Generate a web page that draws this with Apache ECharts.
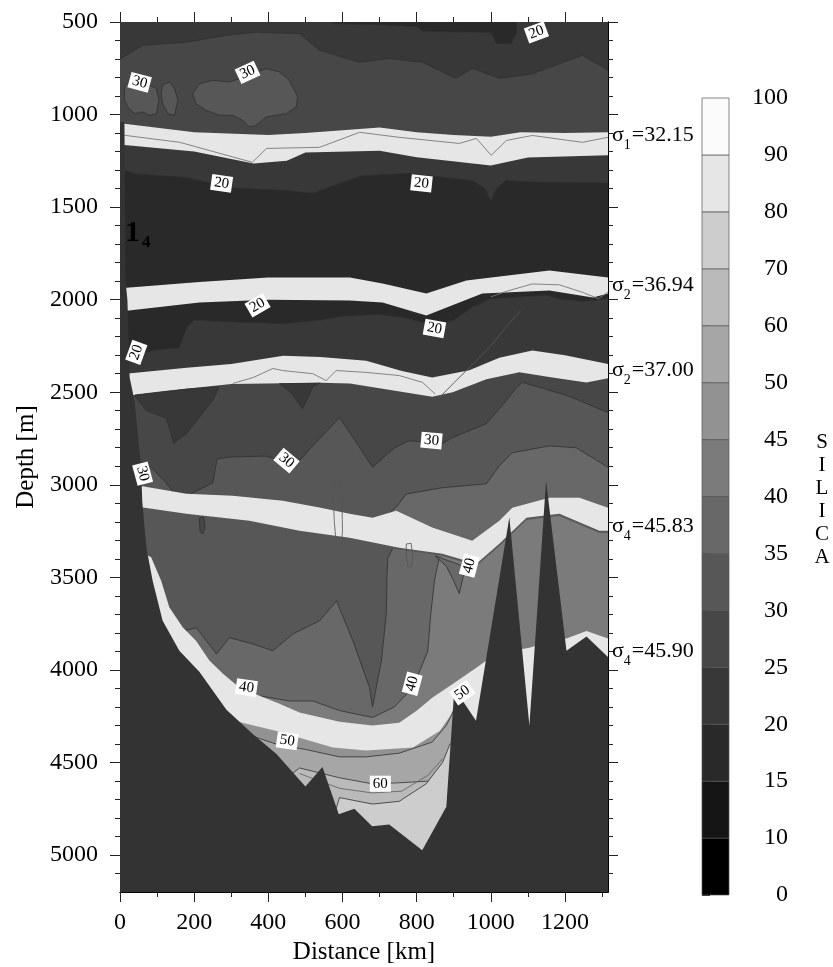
<!DOCTYPE html>
<html>
<head>
<meta charset="utf-8">
<script src="https://cdn.jsdelivr.net/npm/echarts@6/dist/echarts.min.js"></script>
<style>
  html, body { margin: 0; padding: 0; background: #fff; }
  #chart { width: 833px; height: 967px; }
</style>
</head>
<body>
<div id="chart"></div>
<script>
// 剖面范围
const distMax = 1316;
const depthMin = 500;
const depthMax = 5200;

// 坐标刻度
const distLabels = [0, 200, 400, 600, 800, 1000, 1200];
const distMinor = [100, 300, 500, 700, 900, 1100, 1300];
const depthLabels = [500, 1000, 1500, 2000, 2500, 3000, 3500, 4000, 4500, 5000];

// 色标 (硅酸盐)
const silicaTicks = ['0', '10', '15', '20', '25', '30', '35', '40', '45', '50', '60', '70', '80', '90', '100'];
const silicaGrays = ['#000000', '#151515', '#292929', '#383838', '#474747', '#575757', '#686868',
  '#7b7b7b', '#929292', '#a6a6a6', '#bababa', '#cdcdcd', '#e6e6e6', '#fbfbfb'];

// 等值线边界 [距离 km, 深度 m]
const sectionTop = [[0, 500], [1316, 500]];
const iso25Top = [[0, 700], [62, 626], [179, 609], [287, 572], [367, 555], [484, 563], [538, 653], [646, 718],
  [726, 697], [815, 718], [907, 805], [950, 750], [1023, 805], [1112, 780], [1247, 680], [1316, 760]];
const topDark = [[574, 500], [1069, 500], [1069, 560], [1055, 617], [1015, 617], [1000, 556], [900, 554],
  [816, 550], [800, 525], [700, 515], [574, 510]];
const patch30a = [[12, 850], [35, 806], [71, 833], [98, 860], [105, 923], [98, 995], [80, 1004], [62, 986],
  [39, 995], [21, 959], [12, 923]];
const patch30b = [[115, 842], [133, 824], [147, 860], [156, 923], [147, 1004], [129, 995], [115, 941], [111, 887]];
const patch30c = [[196, 887], [214, 833], [250, 815], [295, 824], [322, 806], [358, 779], [394, 752], [430, 770],
  [457, 815], [479, 905], [475, 959], [448, 995], [421, 1004], [394, 1013], [367, 1058], [349, 1067], [331, 1031],
  [304, 1004], [268, 1004], [232, 977], [205, 941]];

const band1Top = [[0, 1050], [12, 1050], [200, 1095], [400, 1110], [500, 1100], [700, 1070], [800, 1095],
  [900, 1110], [1000, 1120], [1080, 1095], [1200, 1100], [1316, 1095]];
const band1Bottom = [[0, 1165], [12, 1165], [200, 1200], [360, 1265], [450, 1250], [500, 1205], [700, 1195],
  [800, 1230], [1000, 1275], [1100, 1232], [1316, 1220]];
const band1Line = [[12, 1112], [161, 1150], [357, 1258], [395, 1183], [538, 1177], [646, 1096], [753, 1123],
  [915, 1156], [961, 1129], [1001, 1220], [1042, 1140], [1112, 1113], [1247, 1150], [1316, 1123]];

const iso20Mid = [[0, 1290], [40, 1320], [180, 1340], [300, 1395], [450, 1410], [520, 1425], [650, 1330],
  [780, 1318], [950, 1356], [985, 1400], [1000, 1465], [1015, 1400], [1040, 1356], [1110, 1364], [1316, 1370]];

const band2Top = [[0, 1935], [18, 1935], [214, 1905], [400, 1880], [620, 1880], [708, 1913], [826, 1967],
  [934, 1896], [1158, 1842], [1316, 1880]];
const band2Bottom = [[0, 2060], [18, 2060], [214, 2015], [400, 2000], [619, 2005], [708, 2015], [826, 2085],
  [977, 1967], [1158, 1950], [1275, 1988], [1316, 1967]];
const band2Line = [[1000, 1985], [1042, 1955], [1112, 1915], [1185, 1920], [1247, 1960], [1290, 1995], [1316, 1960]];

const iso20Low = [[0, 2330], [60, 2290], [100, 2270], [160, 2260], [180, 2150], [200, 2110], [300, 2120],
  [440, 2130], [540, 2110], [600, 2090], [700, 2080], [760, 2095], [850, 2140], [900, 2110], [950, 2040],
  [1000, 1995], [1150, 1975], [1180, 1995], [1250, 2010], [1316, 1995]];

const band3Top = [[0, 2400], [15, 2400], [180, 2368], [300, 2347], [440, 2303], [540, 2310], [664, 2330],
  [760, 2385], [842, 2421], [942, 2382], [1023, 2314], [1112, 2274], [1200, 2300], [1316, 2347]];
const band3Bottom = [[0, 2520], [15, 2520], [180, 2481], [300, 2455], [540, 2449], [620, 2453], [750, 2495],
  [842, 2525], [897, 2500], [988, 2430], [1077, 2392], [1166, 2420], [1258, 2447], [1316, 2425]];
const band3LineA = [[304, 2453], [360, 2420], [412, 2372], [439, 2383], [520, 2400], [556, 2437], [583, 2383],
  [664, 2393], [753, 2410], [816, 2447], [850, 2510]];
const band3LineB = [[861, 2530], [900, 2450], [961, 2330], [1000, 2250], [1040, 2150], [1080, 2060]];
const wedge25a = [[40, 2515], [120, 2496], [180, 2483], [268, 2470], [250, 2545], [214, 2635], [179, 2724],
  [145, 2777], [125, 2640], [71, 2600], [44, 2530]];
const wedge25b = [[430, 2454], [540, 2451], [520, 2470], [493, 2590], [460, 2500]];

const iso30 = [[0, 2880], [71, 2880], [120, 2980], [160, 3080], [200, 3040], [250, 2990], [262, 2860],
  [300, 2850], [394, 2845], [449, 2880], [484, 2870], [520, 2790], [592, 2637], [640, 2780], [681, 2905],
  [740, 2800], [780, 2762], [869, 2779], [896, 2746], [988, 2670], [1042, 2545], [1069, 2475], [1086, 2447],
  [1204, 2517], [1316, 2609]];
const iso35Up = [[0, 3300], [650, 3300], [700, 3200], [745, 3120], [772, 3050], [869, 3016], [988, 2995],
  [1023, 2897], [1058, 2827], [1158, 2790], [1230, 2800], [1316, 2905]];

const band4Top = [[0, 3000], [53, 3005], [179, 3048], [304, 3059], [439, 3086], [538, 3123], [619, 3156],
  [681, 3178], [745, 3140], [842, 3231], [950, 3302], [1023, 3194], [1058, 3124], [1158, 3070], [1239, 3070],
  [1316, 3124]];
const band4Bottom = [[0, 3123], [62, 3123], [179, 3156], [349, 3194], [484, 3248], [619, 3286], [753, 3340],
  [869, 3373], [961, 3427], [1023, 3319], [1096, 3178], [1185, 3156], [1293, 3248], [1316, 3248]];

const iso35Low = [[0, 4300], [120, 4000], [170, 3790], [206, 3773], [260, 3914], [295, 3826], [358, 3860],
  [412, 3897], [466, 3806], [538, 3735], [584, 3627], [628, 3843], [673, 4095], [681, 4200], [705, 3950],
  [718, 3700], [720, 3500], [722, 3400], [735, 3345], [753, 3350], [869, 3382], [961, 3436], [1023, 3328],
  [1096, 3188], [1185, 3166], [1293, 3258], [1316, 3258]];
const iso40 = [[0, 4400], [300, 4260], [376, 4140], [457, 4168], [520, 4168], [592, 4220], [681, 4257],
  [740, 4200], [790, 4095], [830, 3900], [838, 3700], [848, 3520], [860, 3400], [869, 3386], [961, 3440],
  [1023, 3332], [1096, 3192], [1185, 3170], [1293, 3262], [1316, 3262]];
const wedge40 = [[850, 3385], [935, 3445], [925, 3500], [915, 3588], [900, 3520], [880, 3440]];
const loopA = [[575, 2990], [588, 2975], [598, 3050], [600, 3250], [595, 3345], [584, 3340], [578, 3200], [575, 3060]];
const loopB = [[772, 3320], [785, 3316], [789, 3380], [786, 3445], [776, 3440], [772, 3380]];
const blobC = [[214, 3180], [226, 3175], [229, 3230], [224, 3265], [216, 3255]];

const band5Top = [[0, 3300], [84, 3392], [111, 3518], [133, 3662], [169, 3770], [205, 3842], [241, 3950],
  [277, 4020], [322, 4095], [376, 4140], [430, 4183], [484, 4230], [592, 4280], [681, 4300], [753, 4286],
  [799, 4222], [842, 4150], [897, 4076], [960, 3990], [988, 3950], [1050, 3900], [1104, 3880], [1160, 3845],
  [1204, 3830], [1258, 3790], [1316, 3830]];
const band5Bottom = [[0, 5100], [250, 4450], [303, 4270], [330, 4285], [422, 4330], [574, 4420], [664, 4435],
  [790, 4420], [862, 4330], [890, 4250], [915, 4150], [960, 4300], [1316, 4600]];
const iso50 = [[0, 5100], [330, 4340], [420, 4400], [500, 4430], [592, 4470], [664, 4470], [753, 4450],
  [842, 4390], [880, 4300], [905, 4200], [930, 4250], [1316, 4650]];
const iso60 = [[0, 5150], [440, 4600], [484, 4530], [592, 4583], [681, 4616], [753, 4610], [842, 4600],
  [880, 4620], [1316, 4800]];
const iso70 = [[0, 5200], [560, 4900], [592, 4690], [681, 4725], [753, 4710], [826, 4615], [870, 4500],
  [890, 4400], [1316, 4700]];
const basinLine = [[484, 4560], [592, 4640], [681, 4665], [760, 4655], [830, 4570], [870, 4480]];

// 海底地形
const bottomDepth = [[0, 1040], [12, 1040], [15, 1900], [20, 2000], [26, 2420], [39, 2545], [57, 2905],
  [60, 3090], [71, 3338], [88, 3518], [115, 3734], [160, 3897], [214, 4010], [287, 4215], [358, 4346],
  [422, 4454], [500, 4630], [546, 4525], [590, 4780], [632, 4750], [680, 4845], [726, 4835], [815, 4975],
  [880, 4740], [900, 4150], [915, 4140], [960, 4275], [1050, 3176], [1104, 4300], [1149, 2978], [1204, 3897],
  [1258, 3820], [1316, 3930]];

// 等值线标注 [距离, 深度, 文本]
const contourLabels = [[1123, 556, '20'], [53, 826, '30'], [344, 772, '30'], [274, 1372, '20'], [813, 1372, '20'],
  [371, 2031, '20'], [848, 2156, '20'], [44, 2285, '20'], [449, 2869, '30'], [840, 2761, '30'], [61, 2940, '30'],
  [942, 3437, '40'], [341, 4096, '40'], [788, 4075, '40'], [451, 4383, '50'], [923, 4124, '50'], [702, 4615, '60']];
const labelTilt = [20, -15, 25, -8, -6, 30, -10, 70, -40, -5, -75, 75, -8, 75, -8, 35, 0];

// 等密度面标注 [下标, 数值, 深度]
const sigmaLabels = [['1', '32.15', 1123], ['2', '36.94', 1934], ['2', '37.00', 2394], ['4', '45.83', 3237], ['4', '45.90', 3912]];

const serif = 'Liberation Serif';
const bandGray = silicaGrays[12];
const lineGray = '#303030';

let depthMinor = [];
for (let v = 600; v < depthMax; v += 100) {
  if (v % 500 !== 0) depthMinor.push(v);
}

// 面积层：从曲线一直填到剖面底部，按顺序覆盖
let zNext = 1;
const series = [];
function fillLayer(pts, color, edge) {
  series.push({
    type: 'line', xAxisIndex: 0, yAxisIndex: 0, data: pts, symbol: 'none', silent: true, z: zNext++,
    lineStyle: { opacity: 0 },
    areaStyle: { color: color, opacity: 1, origin: 'end' }
  });
  if (edge) {
    series.push({
      type: 'line', xAxisIndex: 0, yAxisIndex: 0, data: pts.slice(edge[0], edge[1] + 1), symbol: 'none',
      silent: true, z: zNext++, lineStyle: { color: lineGray, width: 0.8 }
    });
  }
}
function thinLine(pts, color) {
  series.push({
    type: 'line', xAxisIndex: 0, yAxisIndex: 0, data: pts, symbol: 'none', silent: true, z: zNext++,
    lineStyle: { color: color, width: 0.9 }
  });
}
const full = (a) => [0, a.length - 1];

fillLayer(sectionTop, silicaGrays[3]);
fillLayer(iso25Top, silicaGrays[4], full(iso25Top));
fillLayer(band1Top, bandGray);
fillLayer(band1Bottom, silicaGrays[3]);
fillLayer(iso20Mid, silicaGrays[2], full(iso20Mid));
fillLayer(band2Top, bandGray);
fillLayer(band2Bottom, silicaGrays[2]);
fillLayer(iso20Low, silicaGrays[3], full(iso20Low));
fillLayer(band3Top, bandGray);
fillLayer(band3Bottom, silicaGrays[4]);
fillLayer(iso30, silicaGrays[5], full(iso30));
fillLayer(iso35Up, silicaGrays[6], [1, iso35Up.length - 1]);
fillLayer(band4Top, bandGray);
fillLayer(band4Bottom, silicaGrays[5]);
fillLayer(iso35Low, silicaGrays[6], [2, 18]);
fillLayer(iso40, silicaGrays[7], [2, 12]);
fillLayer(band5Top, bandGray);
fillLayer(band5Bottom, silicaGrays[8]);
fillLayer(iso50, silicaGrays[9], full(iso50));
fillLayer(iso60, silicaGrays[10], full(iso60));
fillLayer(iso70, silicaGrays[11], full(iso70));

// 闭合小块
const patches = [
  { pts: topDark, fill: silicaGrays[2] },
  { pts: patch30a, fill: silicaGrays[5] },
  { pts: patch30b, fill: silicaGrays[5] },
  { pts: patch30c, fill: silicaGrays[5] },
  { pts: wedge25a, fill: silicaGrays[3] },
  { pts: wedge25b, fill: silicaGrays[3] },
  { pts: wedge40, fill: silicaGrays[6] },
  { pts: blobC, fill: silicaGrays[4] },
  { pts: loopA, fill: null },
  { pts: loopB, fill: null }
];
series.push({
  type: 'custom', xAxisIndex: 0, yAxisIndex: 0, silent: true, z: zNext++, clip: true,
  data: patches.map(p => p.pts[0]),
  renderItem: function (params, api) {
    const p = patches[params.dataIndex];
    return {
      type: 'polygon',
      shape: { points: p.pts.map(q => api.coord(q)) },
      style: { fill: p.fill, stroke: p.fill ? lineGray : '#555', lineWidth: 0.8 }
    };
  }
});

thinLine(band1Line, '#777');
thinLine(band2Line, '#777');
thinLine(band3LineA, '#777');
thinLine(band3LineB, '#555');
thinLine(basinLine, '#666');

// 海底
fillLayer(bottomDepth, '#333333');

// 等值线数值标注
series.push({
  type: 'custom', xAxisIndex: 0, yAxisIndex: 0, silent: true, z: zNext++,
  data: contourLabels.map(l => [l[0], l[1]]),
  renderItem: function (params, api) {
    const i = params.dataIndex;
    const c = api.coord([api.value(0), api.value(1)]);
    return {
      type: 'text', x: c[0], y: c[1], rotation: labelTilt[i] * Math.PI / 180,
      style: {
        text: contourLabels[i][2], align: 'center', verticalAlign: 'middle',
        fontFamily: serif, fontSize: 15, fill: '#000', backgroundColor: '#fff', padding: [1, 3, 0, 3]
      }
    };
  }
});

// 右侧等密度面标注
series.push({
  type: 'custom', xAxisIndex: 0, yAxisIndex: 0, silent: true, z: zNext++, clip: false,
  data: sigmaLabels.map(s => [distMax, s[2]]),
  renderItem: function (params, api) {
    const s = sigmaLabels[params.dataIndex];
    const c = api.coord([api.value(0), api.value(1)]);
    return {
      type: 'text', x: c[0] + 4, y: c[1] - 13,
      style: {
        text: '{g|σ}{s|' + s[0] + '}{g|=' + s[1] + '}',
        fill: '#000',
        rich: {
          g: { fontFamily: serif, fontSize: 22, lineHeight: 24, verticalAlign: 'top' },
          s: { fontFamily: serif, fontSize: 14, lineHeight: 14, verticalAlign: 'top', padding: [14, 1, 0, 0] }
        }
      }
    };
  }
});

// 色标
series.push({
  type: 'custom', xAxisIndex: 4, yAxisIndex: 4, silent: true,
  data: silicaGrays.map((c, i) => [0, i]),
  renderItem: function (params, api) {
    const i = params.dataIndex;
    const a = api.coord([0, i]);
    const b = api.coord([1, i + 1]);
    return {
      type: 'rect',
      shape: { x: a[0], y: b[1], width: b[0] - a[0], height: a[1] - b[1] },
      style: { fill: silicaGrays[i], stroke: '#555', lineWidth: 0.7 }
    };
  }
});

const plainNumber = function (v) { return String(v); };

function distAxis(position, ticks, len, withLabels) {
  return {
    type: 'value', gridIndex: 0, position: position, min: 0, max: distMax,
    axisLine: { show: true, onZero: false, lineStyle: { color: '#000', width: 1 } },
    axisTick: { show: true, inside: false, length: len, customValues: ticks, lineStyle: { color: '#222' } },
    axisLabel: withLabels
      ? { show: true, customValues: ticks, formatter: plainNumber, margin: 19, color: '#000', fontFamily: serif, fontSize: 24 }
      : { show: false },
    splitLine: { show: false },
    name: withLabels ? 'Distance [km]' : '',
    nameLocation: 'middle', nameGap: 48,
    nameTextStyle: { color: '#000', fontFamily: serif, fontSize: 25 }
  };
}
function depthAxis(position, ticks, len, withLabels) {
  return {
    type: 'value', gridIndex: 0, position: position, inverse: true, min: depthMin, max: depthMax,
    axisLine: { show: true, onZero: false, lineStyle: { color: '#000', width: 1 } },
    axisTick: { show: true, inside: false, length: len, customValues: ticks, lineStyle: { color: '#222' } },
    axisLabel: withLabels
      ? { show: true, customValues: ticks, formatter: plainNumber, margin: 22, color: '#000', fontFamily: serif, fontSize: 24 }
      : { show: false },
    splitLine: { show: false },
    name: withLabels ? 'Depth [m]' : '',
    nameLocation: 'middle', nameGap: 77, nameRotate: 90,
    nameTextStyle: { color: '#000', fontFamily: serif, fontSize: 25 }
  };
}

const option = {
  animation: false,
  backgroundColor: '#fff',
  grid: [
    { left: 120, top: 22, width: 488, height: 870, outerBoundsMode: 'none', containLabel: false },
    { left: 702, top: 98, width: 27, height: 797, outerBoundsMode: 'none', containLabel: false }
  ],
  xAxis: [
    distAxis('bottom', distLabels, 10, true),
    distAxis('top', distLabels, 10, false),
    distAxis('bottom', distMinor, 5, false),
    distAxis('top', distMinor, 5, false),
    { type: 'value', gridIndex: 1, min: 0, max: 1, show: false }
  ],
  yAxis: [
    depthAxis('left', depthLabels, 10, true),
    depthAxis('right', depthLabels, 10, false),
    depthAxis('left', depthMinor, 5, false),
    depthAxis('right', depthMinor, 5, false),
    {
      type: 'value', gridIndex: 1, position: 'right', min: 0, max: 14, interval: 1,
      axisLine: { show: false },
      axisTick: { show: true, length: 8, lineStyle: { color: '#333' } },
      axisLabel: {
        formatter: function (v) { return silicaTicks[v]; },
        align: 'right', margin: 59, color: '#000', fontFamily: serif, fontSize: 24
      },
      splitLine: { show: false }
    }
  ],
  graphic: [
    {
      type: 'text', x: 822, y: 431, silent: true, z: 100,
      style: { text: 'S\nI\nL\nI\nC\nA', fontFamily: serif, fontSize: 21, lineHeight: 23, align: 'center', fill: '#000' }
    },
    {
      type: 'text', x: 125, y: 218, silent: true, z: 100,
      style: {
        text: '{a|1}{b|4}', fill: '#000',
        rich: {
          a: { fontFamily: serif, fontSize: 30, fontWeight: 'bold', lineHeight: 30, verticalAlign: 'top', fill: '#000' },
          b: { fontFamily: serif, fontSize: 17, fontWeight: 'bold', lineHeight: 17, verticalAlign: 'top', padding: [16, 0, 0, 2], fill: '#000' }
        }
      }
    }
  ],
  series: series
};

const chart = echarts.init(document.getElementById('chart'));
chart.setOption(option);
window.addEventListener('resize', function () {
  chart.resize();
});
</script>
</body>
</html>
